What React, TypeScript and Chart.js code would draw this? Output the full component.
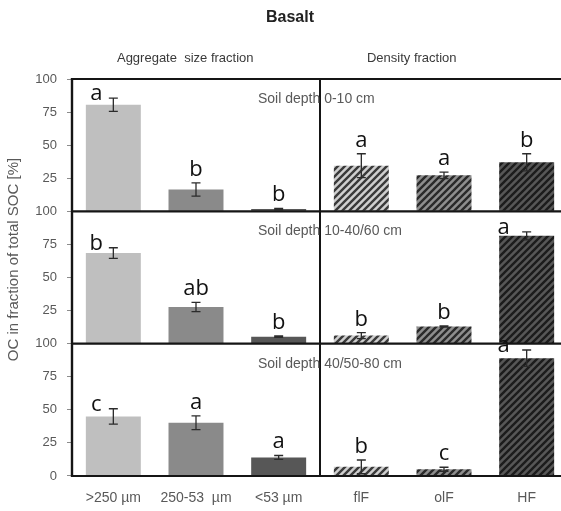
import { useEffect, useRef } from 'react';
import { Chart, registerables } from 'chart.js';

Chart.register(...registerables);

const categories = ['>250 µm', '250-53  µm', '<53 µm', 'flF', 'olF', 'HF'];
const depthLabels = ['Soil depth 0-10 cm', 'Soil depth 10-40/60 cm', 'Soil depth 40/50-80 cm'];

const depth1 = [80.5, 16.5, 1.8, 34.5, 27.2, 37];
const err1 = [5, 5, 0.5, 9, 2.5, 6.5];
const letters1 = ['a', 'b', 'b', 'a', 'a', 'b'];

const depth2 = [68.5, 27.7, 5.3, 6.1, 13, 81.5];
const err2 = [4, 3.5, 0.5, 2.3, 0.4, 3];
const letters2 = ['b', 'ab', 'b', 'b', 'b', 'a'];

const depth3 = [45, 40.2, 14, 6.9, 5.1, 89];
const err3 = [5.8, 5.2, 1.5, 5.2, 1.5, 6.2];
const letters3 = ['c', 'a', 'a', 'b', 'c', 'a'];

const yTickValues = [0, 25, 50, 75, 100];

// style: letter horizontal shift (px); shifted letters sit beside the error bar
const letterShift = [
  [-17, 0, 0, 0, 0, 0],
  [-17, 0, 0, 0, 0, -23],
  [-17, 0, 0, 0, 0, -23],
];

const FONT = "'Liberation Sans', Arial, sans-serif";

function makeHatch(base: string, stripe: string) {
  const s = 7;
  const c = document.createElement('canvas');
  c.width = s;
  c.height = s;
  const g = c.getContext('2d')!;
  g.fillStyle = base;
  g.fillRect(0, 0, s, s);
  g.strokeStyle = stripe;
  g.lineWidth = 2.4;
  g.beginPath();
  g.moveTo(-1, s + 1);
  g.lineTo(s + 1, -1);
  g.moveTo(-1, 1);
  g.lineTo(1, -1);
  g.moveTo(s - 1, s + 1);
  g.lineTo(s + 1, s - 1);
  g.stroke();
  return g.createPattern(c, 'repeat')!;
}

export default function App() {
  const ref = useRef<HTMLCanvasElement>(null);

  useEffect(() => {
    const canvas = ref.current!;
    const colors: any[] = [
      '#bfbfbf',
      '#8a8a8a',
      '#575757',
      makeHatch('#cfcfcf', '#3a3a3a'),
      makeHatch('#8e8e8e', '#2a2a2a'),
      makeHatch('#575757', '#1c1c1c'),
    ];
    const panels = [
      { id: 'yTop', values: depth1, err: err1, letters: letters1 },
      { id: 'yMid', values: depth2, err: err2, letters: letters2 },
      { id: 'yBot', values: depth3, err: err3, letters: letters3 },
    ];

    const yScale = (hideZero: boolean, weight: number) => ({
      type: 'linear',
      position: 'left',
      stack: 'panels',
      stackWeight: 1,
      weight,
      min: 0,
      max: 100,
      afterBuildTicks: (s: any) => {
        s.ticks = yTickValues.map((v) => ({ value: v }));
      },
      afterFit: (s: any) => {
        s.width = 72;
      },
      border: { display: false },
      grid: { display: true, drawOnChartArea: false, drawTicks: true, tickLength: 5, color: '#8c8c8c' },
      ticks: {
        autoSkip: false,
        color: '#595959',
        font: { family: FONT, size: 13 },
        padding: 10,
        callback: (v: any) => (hideZero && v === 0 ? '' : String(v)),
      },
    });

    const overlay = {
      id: 'overlay',
      afterDatasetsDraw(chart: any) {
        const ctx = chart.ctx as CanvasRenderingContext2D;
        const x = chart.scales.x;
        const { left, right, top, bottom } = chart.chartArea;
        ctx.save();
        // error bars and letters
        panels.forEach((p, i) => {
          const y = chart.scales[p.id];
          p.values.forEach((v, j) => {
            const cx = x.getPixelForValue(j);
            const hi = y.getPixelForValue(v + p.err[j]);
            const lo = y.getPixelForValue(Math.max(0, v - p.err[j]));
            ctx.strokeStyle = '#2b2b2b';
            ctx.lineWidth = 1.3;
            ctx.beginPath();
            ctx.moveTo(cx, hi);
            ctx.lineTo(cx, lo);
            ctx.moveTo(cx - 4.5, hi);
            ctx.lineTo(cx + 4.5, hi);
            ctx.moveTo(cx - 4.5, lo);
            ctx.lineTo(cx + 4.5, lo);
            ctx.stroke();
            const dx = letterShift[i][j];
            ctx.fillStyle = '#111';
            ctx.font = "22px 'Open Sans', 'Noto Sans', sans-serif";
            ctx.textAlign = 'center';
            ctx.textBaseline = 'alphabetic';
            ctx.fillText(p.letters[j], cx + dx, dx !== 0 ? hi + 2 : hi - 7);
          });
        });
        // frame
        ctx.strokeStyle = '#151515';
        ctx.lineWidth = 2;
        const sepX = (x.getPixelForValue(2) + x.getPixelForValue(3)) / 2;
        ctx.beginPath();
        ctx.moveTo(left, top);
        ctx.lineTo(right, top);
        ctx.moveTo(sepX, top);
        ctx.lineTo(sepX, bottom);
        ctx.moveTo(left, bottom);
        ctx.lineTo(right, bottom);
        ctx.stroke();
        ctx.lineWidth = 2.4;
        ctx.beginPath();
        ctx.moveTo(left, top - 1);
        ctx.lineTo(left, bottom + 1);
        ['yTop', 'yMid'].forEach((id) => {
          const b = chart.scales[id].bottom;
          ctx.moveTo(left, b);
          ctx.lineTo(right, b);
        });
        ctx.stroke();
        // depth labels
        ctx.fillStyle = '#595959';
        ctx.font = `14px ${FONT}`;
        ctx.textAlign = 'left';
        ctx.textBaseline = 'middle';
        panels.forEach((p, i) => {
          const y = chart.scales[p.id];
          ctx.fillText(depthLabels[i], x.getPixelForValue(1.75), y.top + 20);
        });
        // headings
        ctx.fillStyle = '#222';
        ctx.font = `bold 16px ${FONT}`;
        ctx.textAlign = 'center';
        ctx.fillText('Basalt', 290, 18);
        ctx.fillStyle = '#3a3a3a';
        ctx.font = `13px ${FONT}`;
        ctx.fillText('Aggregate  size fraction', x.getPixelForValue(0.87), 58);
        ctx.fillText('Density fraction', x.getPixelForValue(3.61), 58);
        // y-axis title
        const yMid = chart.scales.yMid;
        ctx.save();
        ctx.translate(14, (yMid.top + yMid.bottom) / 2 - 18);
        ctx.rotate(-Math.PI / 2);
        ctx.fillStyle = '#595959';
        ctx.font = `15px ${FONT}`;
        ctx.textAlign = 'center';
        ctx.textBaseline = 'middle';
        ctx.fillText('OC in fraction of total SOC [%]', 0, 0);
        ctx.restore();
        ctx.restore();
      },
    };

    const chart = new Chart(canvas, {
      type: 'bar',
      data: {
        labels: categories,
        datasets: panels.map((p) => ({
          data: p.values,
          yAxisID: p.id,
          backgroundColor: colors,
          borderWidth: 0,
          grouped: false,
          categoryPercentage: 1,
          barPercentage: 0.665,
        })),
      },
      options: {
        responsive: false,
        animation: false,
        devicePixelRatio: 1,
        layout: { padding: { top: 79, left: 0, right: 2, bottom: 0 } },
        plugins: { legend: { display: false }, tooltip: { enabled: false } },
        scales: {
          x: {
            type: 'category',
            grid: { display: false, drawTicks: false },
            border: { display: false },
            afterFit: (s: any) => {
              s.height = 35;
            },
            ticks: {
              color: '#595959',
              font: { family: FONT, size: 14 },
              padding: 14,
              maxRotation: 0,
              autoSkip: false,
            },
          },
          yBot: yScale(false, 1),
          yMid: yScale(true, 2),
          yTop: yScale(true, 3),
        } as any,
      },
      plugins: [overlay],
    } as any);
    return () => chart.destroy();
  }, []);

  return (
    <div
      style={{
        position: 'fixed',
        left: 0,
        top: 0,
        width: 561,
        height: 511,
        overflow: 'hidden',
        background: '#fff',
      }}
    >
      <canvas ref={ref} width={570} height={511} style={{ display: 'block' }} />
    </div>
  );
}
